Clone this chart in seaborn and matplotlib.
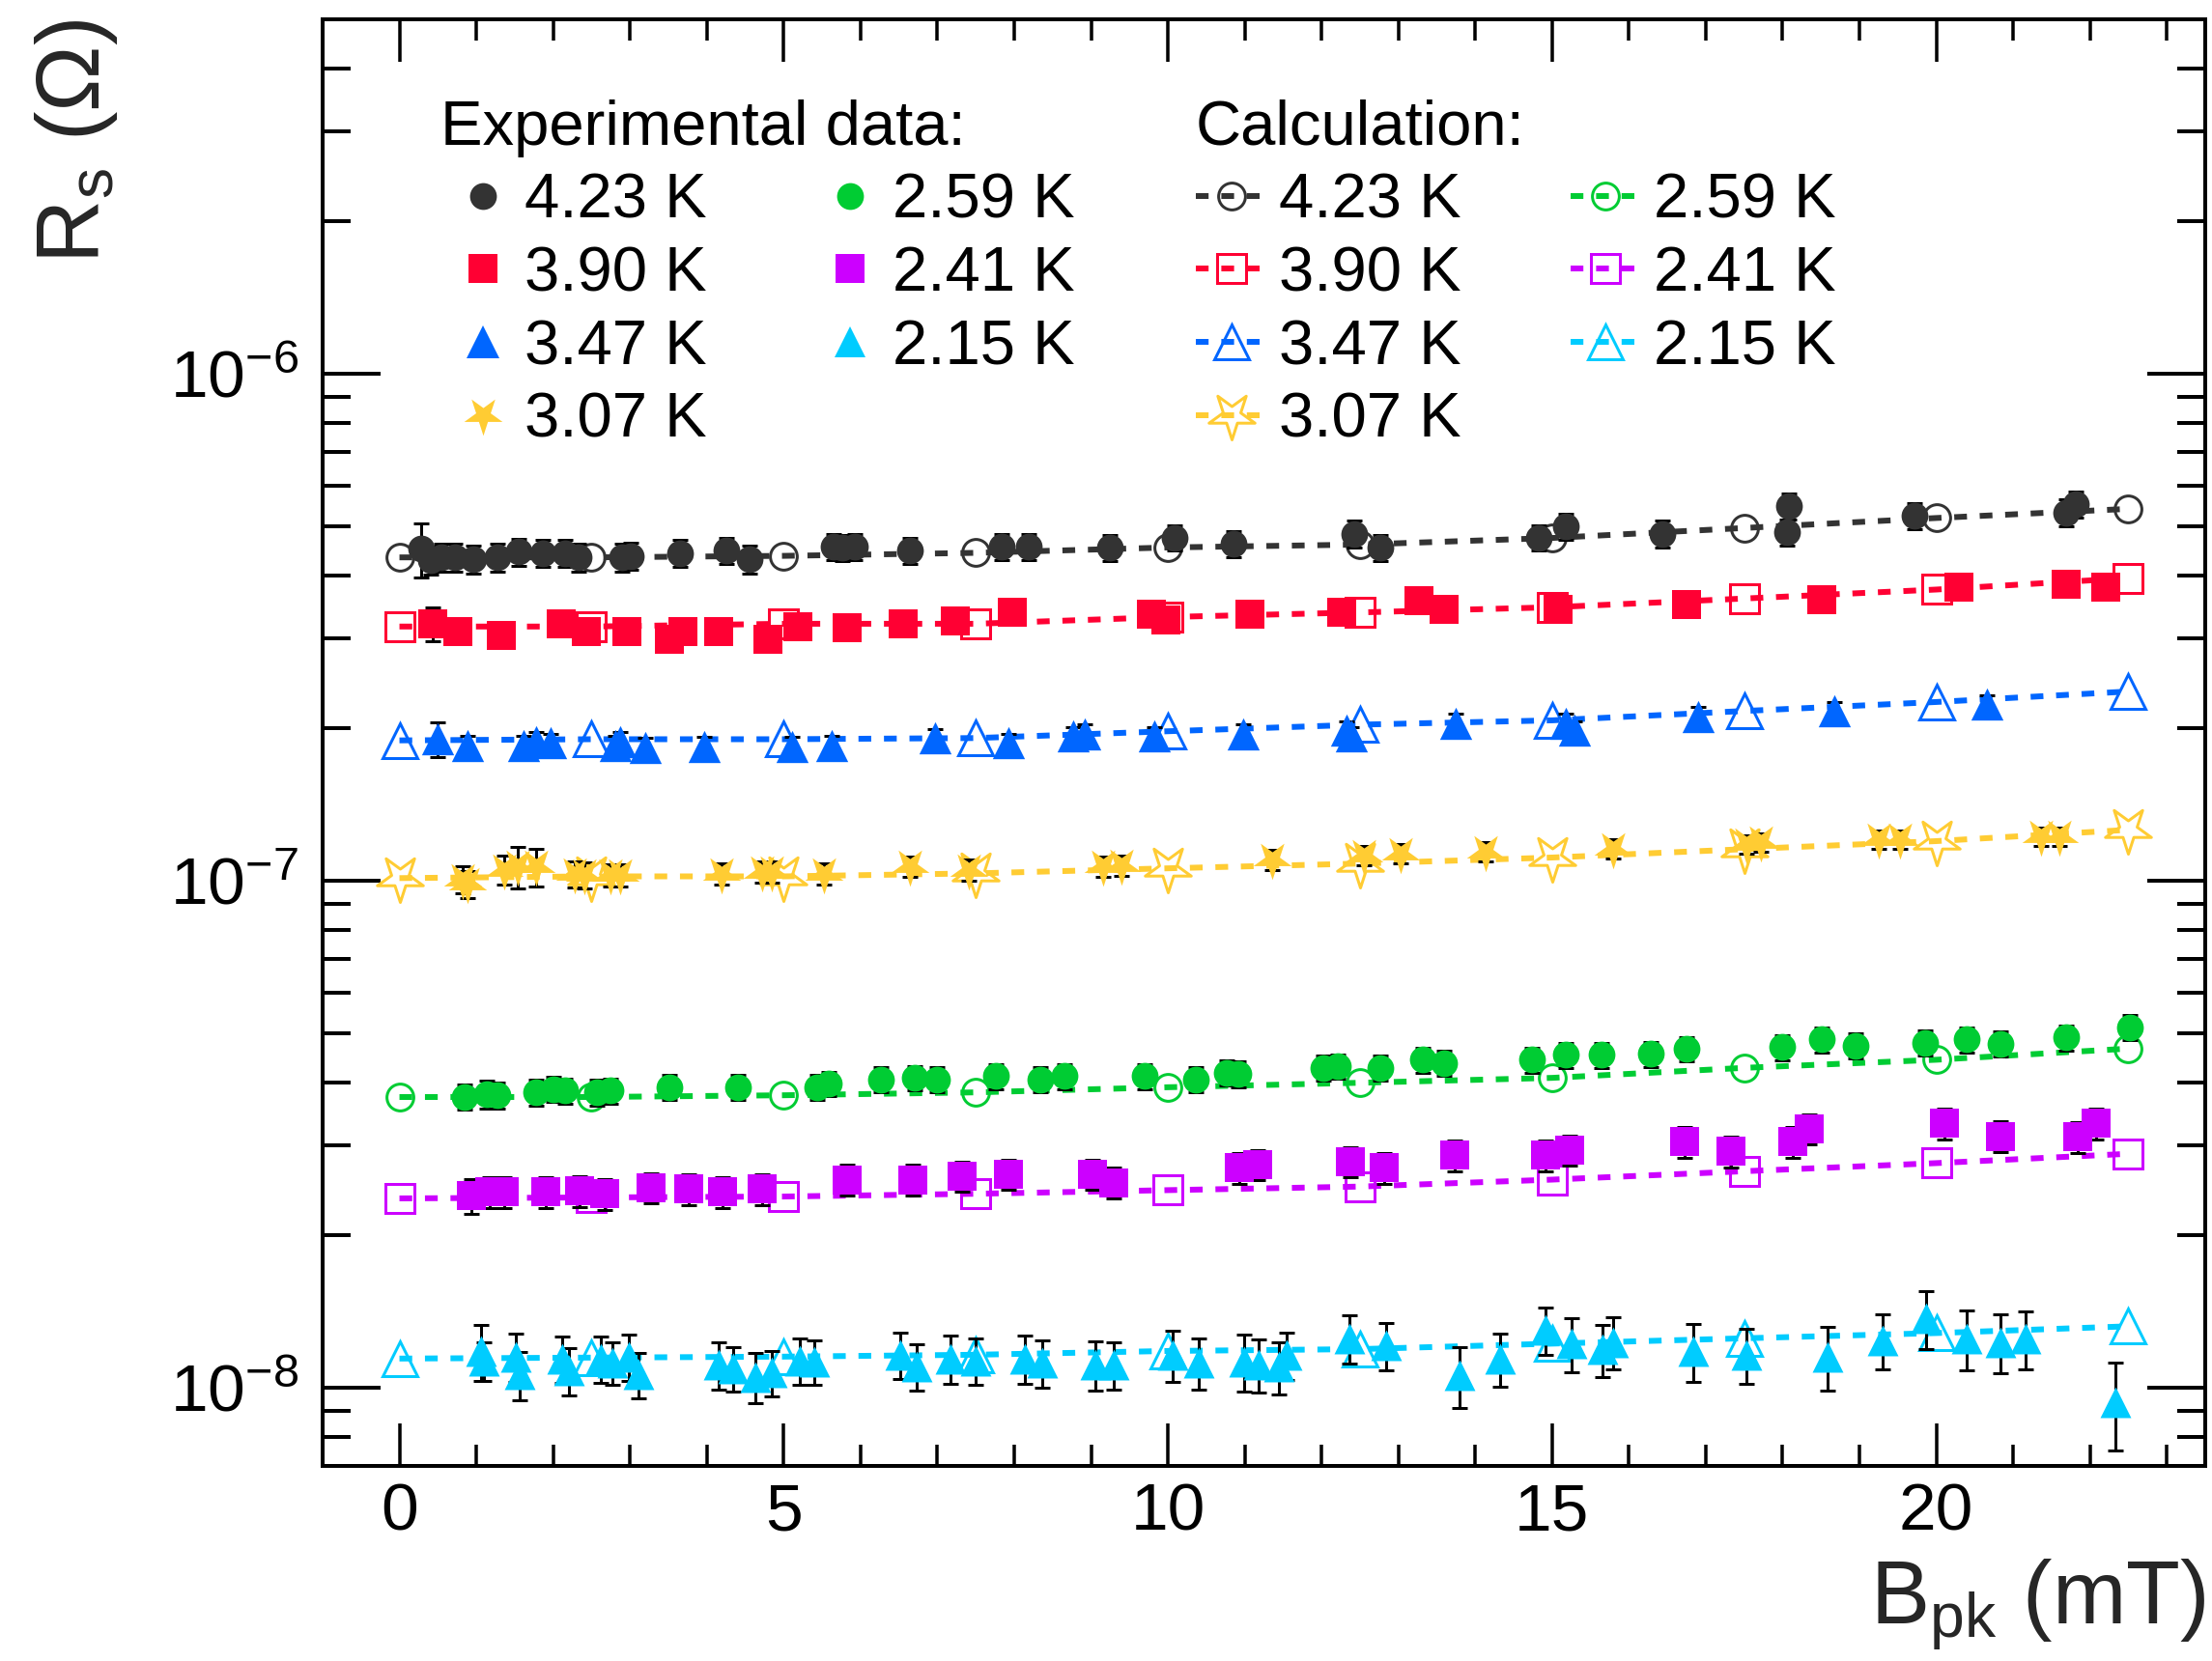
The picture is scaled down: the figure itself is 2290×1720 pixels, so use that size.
import numpy as np
import matplotlib
matplotlib.use("Agg")
import matplotlib.pyplot as plt
from matplotlib.path import Path
from matplotlib.lines import Line2D
from matplotlib.ticker import LogLocator, MultipleLocator, LogFormatterSciNotation, NullFormatter
import seaborn as sns

sns.set_theme(style="ticks")
plt.rcParams["font.family"] = ["Liberation Sans", "DejaVu Sans"]
plt.rcParams["mathtext.fontset"] = "custom"
plt.rcParams["mathtext.rm"] = "Liberation Sans"
plt.rcParams["mathtext.it"] = "Liberation Sans:italic"
plt.rcParams["mathtext.bf"] = "Liberation Sans:bold"
plt.rcParams["axes.edgecolor"] = "black"
plt.rcParams["xtick.color"] = "black"
plt.rcParams["ytick.color"] = "black"
plt.rcParams["text.color"] = "black"

# ---------------- data ----------------
temps = ["4.23 K", "3.90 K", "3.47 K", "3.07 K", "2.59 K", "2.41 K", "2.15 K"]
colors = ["#333333", "#ff0033", "#0066ff", "#ffcc33", "#00cc33", "#cc00ff", "#00ccff"]

# calculation (B_pk in mT, Rs in Ohm)
calc_x = [0, 2.5, 5, 7.5, 10, 12.5, 15, 17.5, 20, 22.5]
calc_423 = [4.34e-7, 4.34e-7, 4.37e-7, 4.43e-7, 4.54e-7, 4.60e-7, 4.74e-7, 4.96e-7, 5.19e-7, 5.41e-7]
calc_390 = [3.17e-7, 3.17e-7, 3.21e-7, 3.21e-7, 3.31e-7, 3.38e-7, 3.46e-7, 3.60e-7, 3.75e-7, 3.95e-7]
calc_347 = [1.89e-7, 1.90e-7, 1.90e-7, 1.91e-7, 1.97e-7, 2.03e-7, 2.07e-7, 2.16e-7, 2.25e-7, 2.36e-7]
calc_307 = [1.011e-7, 1.019e-7, 1.019e-7, 1.033e-7, 1.057e-7, 1.08e-7, 1.11e-7, 1.153e-7, 1.196e-7, 1.259e-7]
calc_259 = [3.74e-8, 3.74e-8, 3.77e-8, 3.82e-8, 3.91e-8, 3.99e-8, 4.08e-8, 4.27e-8, 4.43e-8, 4.66e-8]
calc_241 = [2.36e-8, 2.37e-8, 2.38e-8, 2.41e-8, 2.45e-8, 2.49e-8, 2.57e-8, 2.67e-8, 2.77e-8, 2.89e-8]
calc_215 = [1.14e-8, 1.145e-8, 1.15e-8, 1.16e-8, 1.18e-8, 1.19e-8, 1.22e-8, 1.25e-8, 1.28e-8, 1.32e-8]

# experimental data
x_423 = [0.28, 0.41, 0.54, 0.72, 0.96, 1.28, 1.55, 1.86, 2.15, 2.33, 2.90, 3.01, 3.65, 4.26, 4.55,
         5.65, 5.76, 5.93, 6.64, 7.84, 8.19, 9.25, 10.09, 10.85, 12.43, 12.76, 14.83, 15.18, 16.43,
         18.08, 18.06, 19.71, 21.69, 21.82]
y_423 = [4.51e-7, 4.28e-7, 4.34e-7, 4.34e-7, 4.31e-7, 4.34e-7, 4.45e-7, 4.42e-7, 4.42e-7, 4.34e-7,
         4.34e-7, 4.37e-7, 4.42e-7, 4.48e-7, 4.31e-7, 4.56e-7, 4.53e-7, 4.56e-7, 4.48e-7, 4.56e-7,
         4.56e-7, 4.53e-7, 4.75e-7, 4.62e-7, 4.83e-7, 4.53e-7, 4.75e-7, 4.99e-7, 4.83e-7, 5.48e-7,
         4.86e-7, 5.25e-7, 5.32e-7, 5.53e-7]
e_423 = [0.55e-7, 0.27e-7, 0.27e-7, 0.27e-7, 0.27e-7, 0.27e-7, 0.27e-7, 0.27e-7, 0.27e-7, 0.27e-7,
         0.27e-7, 0.27e-7, 0.27e-7, 0.27e-7, 0.27e-7, 0.27e-7, 0.27e-7, 0.27e-7, 0.27e-7, 0.27e-7,
         0.27e-7, 0.27e-7, 0.28e-7, 0.28e-7, 0.29e-7, 0.27e-7, 0.28e-7, 0.30e-7, 0.29e-7, 0.33e-7,
         0.29e-7, 0.31e-7, 0.32e-7, 0.33e-7]

x_390 = [0.43, 0.76, 1.32, 2.10, 2.43, 2.96, 3.51, 3.69, 4.15, 4.79, 5.18, 5.82, 6.55, 7.23, 7.98,
         9.78, 9.97, 11.07, 12.26, 13.27, 13.60, 15.08, 16.75, 18.51, 20.30, 21.69, 22.20]
y_390 = [3.21e-7, 3.10e-7, 3.05e-7, 3.21e-7, 3.10e-7, 3.10e-7, 2.99e-7, 3.10e-7, 3.10e-7, 2.99e-7,
         3.17e-7, 3.15e-7, 3.21e-7, 3.25e-7, 3.38e-7, 3.36e-7, 3.27e-7, 3.36e-7, 3.38e-7, 3.56e-7,
         3.42e-7, 3.42e-7, 3.51e-7, 3.58e-7, 3.79e-7, 3.84e-7, 3.79e-7]
e_390 = [0.25e-7, 0.15e-7, 0.15e-7, 0.15e-7, 0.15e-7, 0.15e-7, 0.15e-7, 0.15e-7, 0.15e-7, 0.15e-7,
         0.15e-7, 0.15e-7, 0.15e-7, 0.15e-7, 0.16e-7, 0.16e-7, 0.16e-7, 0.16e-7, 0.16e-7, 0.17e-7,
         0.16e-7, 0.16e-7, 0.17e-7, 0.17e-7, 0.18e-7, 0.18e-7, 0.18e-7]

x_347 = [0.50, 0.88, 1.62, 1.78, 1.97, 2.81, 2.87, 3.20, 3.96, 5.11, 5.62, 6.97, 7.93, 8.77, 8.92,
         9.82, 10.98, 12.32, 12.39, 13.75, 15.18, 15.29, 16.90, 18.67, 20.66]
y_347 = [1.90e-7, 1.85e-7, 1.85e-7, 1.88e-7, 1.87e-7, 1.85e-7, 1.88e-7, 1.83e-7, 1.84e-7, 1.84e-7,
         1.85e-7, 1.91e-7, 1.87e-7, 1.93e-7, 1.95e-7, 1.93e-7, 1.95e-7, 1.98e-7, 1.93e-7, 2.04e-7,
         2.04e-7, 1.98e-7, 2.11e-7, 2.16e-7, 2.23e-7]
e_347 = [0.15e-7, 0.08e-7, 0.08e-7, 0.08e-7, 0.08e-7, 0.08e-7, 0.08e-7, 0.08e-7, 0.08e-7, 0.08e-7,
         0.08e-7, 0.08e-7, 0.08e-7, 0.08e-7, 0.08e-7, 0.08e-7, 0.08e-7, 0.08e-7, 0.08e-7, 0.09e-7,
         0.09e-7, 0.08e-7, 0.09e-7, 0.09e-7, 0.09e-7]

x_307 = [0.82, 0.88, 1.36, 1.54, 1.78, 2.28, 2.41, 2.74, 2.87, 4.19, 4.72, 4.85, 5.53, 6.64, 7.41,
         9.16, 9.39, 11.36, 12.55, 13.03, 14.13, 15.79, 17.53, 17.72, 19.25, 19.53, 21.36, 21.60]
y_307 = [1.005e-7, 0.985e-7, 1.05e-7, 1.065e-7, 1.065e-7, 1.03e-7, 1.025e-7, 1.025e-7, 1.025e-7,
         1.03e-7, 1.04e-7, 1.04e-7, 1.03e-7, 1.065e-7, 1.05e-7, 1.065e-7, 1.07e-7, 1.10e-7, 1.12e-7,
         1.13e-7, 1.14e-7, 1.155e-7, 1.18e-7, 1.19e-7, 1.205e-7, 1.205e-7, 1.22e-7, 1.22e-7]
e_307 = [0.06e-7, 0.06e-7, 0.07e-7, 0.10e-7, 0.09e-7, 0.06e-7, 0.06e-7, 0.05e-7, 0.05e-7, 0.05e-7,
         0.05e-7, 0.05e-7, 0.05e-7, 0.05e-7, 0.05e-7, 0.05e-7, 0.05e-7, 0.05e-7, 0.05e-7, 0.05e-7,
         0.05e-7, 0.05e-7, 0.05e-7, 0.05e-7, 0.05e-7, 0.05e-7, 0.05e-7, 0.05e-7]

x_259 = [0.85, 1.14, 1.27, 1.78, 2.00, 2.16, 2.57, 2.74, 3.51, 4.41, 5.43, 5.59, 6.26, 6.71, 6.99,
         7.76, 8.34, 8.66, 9.70, 10.37, 10.77, 10.92, 12.02, 12.21, 12.76, 13.32, 13.60, 14.74, 15.18,
         15.64, 16.28, 16.75, 18.00, 18.51, 18.95, 19.85, 20.40, 20.83, 21.69, 22.52]
y_259 = [3.745e-8, 3.79e-8, 3.77e-8, 3.82e-8, 3.88e-8, 3.85e-8, 3.82e-8, 3.85e-8, 3.91e-8, 3.91e-8,
         3.91e-8, 3.97e-8, 4.055e-8, 4.08e-8, 4.055e-8, 4.11e-8, 4.055e-8, 4.11e-8, 4.11e-8, 4.055e-8,
         4.18e-8, 4.15e-8, 4.27e-8, 4.30e-8, 4.27e-8, 4.43e-8, 4.36e-8, 4.43e-8, 4.53e-8, 4.53e-8,
         4.55e-8, 4.65e-8, 4.69e-8, 4.86e-8, 4.72e-8, 4.79e-8, 4.86e-8, 4.76e-8, 4.90e-8, 5.13e-8]
e_259 = [0.22e-8, 0.24e-8, 0.22e-8, 0.22e-8, 0.22e-8, 0.22e-8, 0.22e-8, 0.22e-8, 0.22e-8, 0.22e-8,
         0.22e-8, 0.22e-8, 0.23e-8, 0.23e-8, 0.23e-8, 0.23e-8, 0.23e-8, 0.23e-8, 0.23e-8, 0.23e-8,
         0.24e-8, 0.24e-8, 0.24e-8, 0.24e-8, 0.24e-8, 0.25e-8, 0.25e-8, 0.25e-8, 0.26e-8, 0.26e-8,
         0.26e-8, 0.26e-8, 0.27e-8, 0.28e-8, 0.27e-8, 0.27e-8, 0.28e-8, 0.27e-8, 0.28e-8, 0.29e-8]

x_241 = [0.94, 1.17, 1.36, 1.91, 2.35, 2.67, 3.28, 3.76, 4.21, 4.72, 5.82, 6.68, 7.32, 7.93, 9.02,
         9.29, 10.93, 11.17, 12.38, 12.81, 13.73, 14.92, 15.23, 16.72, 17.33, 18.13, 18.35, 20.11,
         20.84, 21.84, 22.08]
y_241 = [2.39e-8, 2.43e-8, 2.43e-8, 2.43e-8, 2.44e-8, 2.41e-8, 2.48e-8, 2.46e-8, 2.43e-8, 2.46e-8,
         2.57e-8, 2.57e-8, 2.61e-8, 2.63e-8, 2.63e-8, 2.535e-8, 2.71e-8, 2.75e-8, 2.79e-8, 2.71e-8,
         2.87e-8, 2.87e-8, 2.94e-8, 3.05e-8, 2.92e-8, 3.05e-8, 3.24e-8, 3.32e-8, 3.13e-8, 3.12e-8,
         3.32e-8]
e_241 = [0.19e-8, 0.17e-8, 0.17e-8, 0.17e-8, 0.17e-8, 0.17e-8, 0.17e-8, 0.17e-8, 0.17e-8, 0.17e-8,
         0.18e-8, 0.18e-8, 0.18e-8, 0.18e-8, 0.18e-8, 0.18e-8, 0.19e-8, 0.19e-8, 0.19e-8, 0.19e-8,
         0.20e-8, 0.20e-8, 0.20e-8, 0.21e-8, 0.20e-8, 0.21e-8, 0.22e-8, 0.23e-8, 0.22e-8, 0.22e-8,
         0.23e-8]

x_215 = [1.06, 1.10, 1.52, 1.57, 2.12, 2.21, 2.62, 2.77, 2.98, 3.11, 4.16, 4.34, 4.63, 4.84, 5.21,
         5.40, 6.52, 6.73, 7.17, 7.50, 8.14, 8.36, 9.06, 9.30, 10.06, 10.40, 10.99, 11.18, 11.45,
         11.55, 12.36, 12.84, 13.80, 14.32, 14.92, 15.25, 15.66, 15.79, 16.84, 17.53, 18.58, 19.30,
         19.87, 20.40, 20.83, 21.16, 22.33]
y_215 = [1.18e-8, 1.13e-8, 1.15e-8, 1.06e-8, 1.14e-8, 1.08e-8, 1.14e-8, 1.12e-8, 1.15e-8, 1.06e-8,
         1.11e-8, 1.09e-8, 1.05e-8, 1.07e-8, 1.13e-8, 1.125e-8, 1.16e-8, 1.10e-8, 1.14e-8, 1.13e-8,
         1.14e-8, 1.12e-8, 1.11e-8, 1.11e-8, 1.16e-8, 1.12e-8, 1.125e-8, 1.11e-8, 1.10e-8, 1.16e-8,
         1.25e-8, 1.21e-8, 1.055e-8, 1.14e-8, 1.30e-8, 1.22e-8, 1.19e-8, 1.23e-8, 1.18e-8, 1.16e-8,
         1.15e-8, 1.24e-8, 1.37e-8, 1.25e-8, 1.23e-8, 1.25e-8, 0.936e-8]
e_215 = [0.15e-8, 0.10e-8, 0.125e-8, 0.115e-8, 0.12e-8, 0.115e-8, 0.12e-8, 0.11e-8, 0.12e-8, 0.11e-8,
         0.12e-8, 0.11e-8, 0.12e-8, 0.11e-8, 0.12e-8, 0.115e-8, 0.12e-8, 0.115e-8, 0.125e-8, 0.12e-8,
         0.125e-8, 0.12e-8, 0.125e-8, 0.12e-8, 0.135e-8, 0.13e-8, 0.145e-8, 0.135e-8, 0.13e-8, 0.125e-8,
         0.135e-8, 0.13e-8, 0.145e-8, 0.135e-8, 0.14e-8, 0.15e-8, 0.14e-8, 0.145e-8, 0.155e-8, 0.145e-8,
         0.165e-8, 0.155e-8, 0.18e-8, 0.17e-8, 0.165e-8, 0.165e-8, 0.185e-8]

calc_ys = [calc_423, calc_390, calc_347, calc_307, calc_259, calc_241, calc_215]
exp_xs = [x_423, x_390, x_347, x_307, x_259, x_241, x_215]
exp_ys = [y_423, y_390, y_347, y_307, y_259, y_241, y_215]
exp_es = [e_423, e_390, e_347, e_307, e_259, e_241, e_215]

# ---------------- styles ----------------
def star_path(inner=0.38):
    verts = []
    for k in range(5):
        a_out = np.deg2rad(-90 + 72 * k)
        a_in = np.deg2rad(-90 + 36 + 72 * k)
        verts.append((np.cos(a_out), np.sin(a_out)))
        verts.append((inner * np.cos(a_in), inner * np.sin(a_in)))
    verts.append(verts[0])
    codes = [Path.MOVETO] + [Path.LINETO] * 9 + [Path.CLOSEPOLY]
    return Path(verts, codes)

STAR = star_path()
exp_markers = ["o", "s", "^", STAR, "o", "s", "^"]
exp_sizes = [20, 21.5, 24, 30, 20, 21.5, 23]
calc_sizes = [20, 22, 26, 36, 20, 22, 26]

PX = 0.72  # points per pixel at dpi 100
LW = 6 * PX
DASH = (0, (2.2, 2.2))

fig = plt.figure(figsize=(22.9, 17.2), dpi=100)
ax = fig.add_axes([334 / 2290, 1 - 1518 / 1720, 1949 / 2290, 1498 / 1720])
ax.set_yscale("log")

for i in range(7):
    c = colors[i]
    sns.lineplot(x=calc_x, y=calc_ys[i], ax=ax, color=c, lw=LW, linestyle=DASH,
                 marker=exp_markers[i], markersize=calc_sizes[i], markerfacecolor="none",
                 markeredgecolor=c, markeredgewidth=3 * PX, estimator=None, sort=False,
                 legend=False, zorder=2)
for i in range(7):
    c = colors[i]
    ax.errorbar(exp_xs[i], exp_ys[i], yerr=exp_es[i], fmt="none", ecolor="black",
                elinewidth=3 * PX, capsize=8 * PX, capthick=3 * PX, zorder=3)
    sns.scatterplot(x=exp_xs[i], y=exp_ys[i], ax=ax, marker=exp_markers[i],
                    s=exp_sizes[i] ** 2, color=c, edgecolor=c, linewidth=0, zorder=4,
                    legend=False)

ax.set_xlim(-1, 23.5)
ax.set_ylim(7e-9, 5e-6)

ax.xaxis.set_major_locator(MultipleLocator(5))
ax.xaxis.set_minor_locator(MultipleLocator(1))
ax.yaxis.set_major_locator(LogLocator(base=10, numticks=20))
ax.yaxis.set_minor_locator(LogLocator(base=10, subs=np.arange(2, 10), numticks=50))
ax.yaxis.set_major_formatter(LogFormatterSciNotation())
ax.yaxis.set_minor_formatter(NullFormatter())

for s in ax.spines.values():
    s.set_linewidth(4 * PX)
    s.set_color("black")

ax.tick_params(which="both", direction="in", top=True, right=True, colors="black",
               labelsize=50)
ax.tick_params(axis="x", which="major", length=44 * PX, width=3.5 * PX, pad=12)
ax.tick_params(axis="x", which="minor", length=22 * PX, width=3.5 * PX)
ax.tick_params(axis="y", which="major", length=60 * PX, width=4 * PX, pad=18)
ax.tick_params(axis="y", which="minor", length=29 * PX, width=4 * PX)

ax.set_xlabel(r"$\mathregular{B_{pk}}$ (mT)", fontsize=66, loc="right")
ax.xaxis.set_label_coords(1.0, -0.063)
ax.set_ylabel(r"$\mathregular{R_{s}}$ (Ω)", fontsize=66, loc="top")
ax.yaxis.set_label_coords(-0.1077, 1.0)

# ---------------- legends ----------------
FS = 47
exp_handles = [Line2D([], [], linestyle="none", marker=exp_markers[i], markersize=exp_sizes[i],
                      color=colors[i], markeredgewidth=0) for i in range(7)]
calc_handles = [Line2D([], [], linestyle=DASH, lw=LW, color=colors[i], marker=exp_markers[i],
                       markersize=calc_sizes[i], markerfacecolor="none",
                       markeredgecolor=colors[i], markeredgewidth=3 * PX) for i in range(7)]

leg1 = ax.legend(exp_handles, temps, ncol=2, title="Experimental data:", loc="upper left",
                 bbox_to_anchor=(456 / 2290, 1 - 103 / 1720), bbox_transform=fig.transFigure,
                 frameon=False, fontsize=FS, title_fontsize=FS, alignment="left",
                 borderpad=0, borderaxespad=0, handlelength=1.34, handletextpad=0.0,
                 columnspacing=1.60, labelspacing=0.24, numpoints=1)
ax.add_artist(leg1)
leg2 = ax.legend(calc_handles, temps, ncol=2, title="Calculation:", loc="upper left",
                 bbox_to_anchor=(1238 / 2290, 1 - 103 / 1720), bbox_transform=fig.transFigure,
                 frameon=False, fontsize=FS, title_fontsize=FS, alignment="left",
                 borderpad=0, borderaxespad=0, handlelength=1.12, handletextpad=0.20,
                 columnspacing=1.73, labelspacing=0.24, numpoints=1)

fig.savefig("out.png", dpi=100)
